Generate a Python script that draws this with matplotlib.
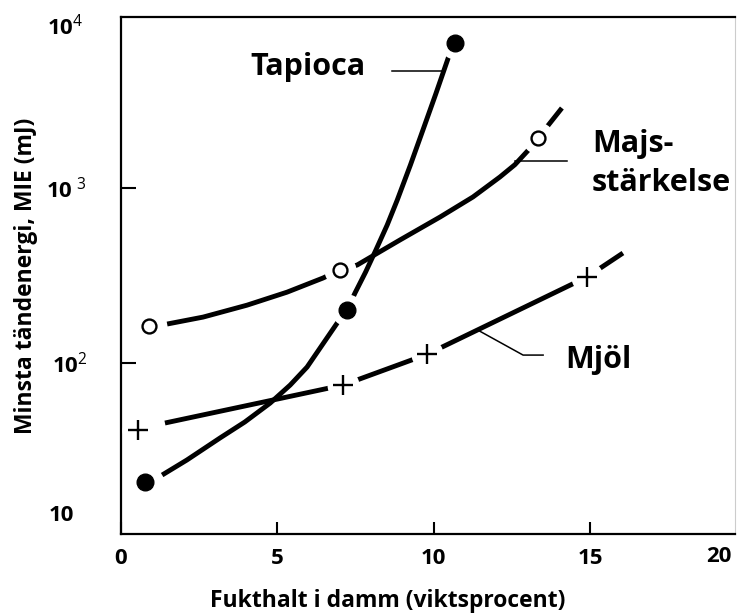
import matplotlib
matplotlib.use("Agg")
import matplotlib.pyplot as plt

plt.rcParams['font.family'] = ['Open Sans', 'DejaVu Sans']
plt.rcParams['mathtext.fontset'] = 'custom'
plt.rcParams['mathtext.rm'] = 'Open Sans'
plt.rcParams['mathtext.bf'] = 'Open Sans:bold'

# ---- data ----
# measured points (markers)
tapioca_x = [0.78, 7.24, 10.69]
tapioca_y = [21, 201, 6750]
majs_x = [0.91, 7.01, 13.34]
majs_y = [163, 340, 1931]
mjol_x = [0.56, 7.11, 9.79, 14.9]
mjol_y = [41.4, 74.8, 112, 310]

# hand-drawn fitted curves
tapioca_curve_x = [1.33, 2.12, 3.18, 3.97, 4.78, 5.42, 5.96, 6.92, 7.24, 7.49, 7.83,
                   8.16, 8.52, 8.84, 9.26, 9.66, 10.07, 10.48, 10.69]
tapioca_curve_y = [22.9, 27.9, 37.3, 46, 59, 74.8, 94.8, 169, 201, 251, 331,
                   443, 615, 853, 1352, 2143, 3443, 5610, 6750]
majs_curve_x = [1.49, 2.64, 4.04, 5.32, 6.47, 7.01, 7.56, 8.93, 10.21, 11.26, 12.12,
                12.6, 13.02, 13.34, 14.1]
majs_curve_y = [167, 183, 214, 254, 306, 340, 363, 505, 683, 889, 1156,
                1360, 1640, 1931, 2865]
mjol_curve_x = [1.42, 7.11, 9.79, 14.9, 16.05]
mjol_curve_y = [45.4, 74.8, 112, 310, 425]

x_ticks = [0, 5, 10, 15]
x_ticklabels = ['0', '5', '10', '15']
y_ticks = [100, 1000]
y_ticklabels = [r'$\mathbf{10}^{2}$', r'$\mathbf{10}^{\ 3}$']

fig = plt.figure(figsize=(7.37, 6.13), dpi=100)
W, H = 737, 613
ax = fig.add_axes([120.5 / W, (H - 534) / H, (735 - 120.5) / W, (534 - 17) / H])
ax.set_yscale('log')
ax.set_xlim(0, 19.63)
ax.set_ylim(10.54, 9490)

lw = 3.5
for cx, cy in [(tapioca_curve_x, tapioca_curve_y), (majs_curve_x, majs_curve_y), (mjol_curve_x, mjol_curve_y)]:
    ax.plot(cx, cy, color='black', lw=lw, solid_capstyle='butt', solid_joinstyle='round', zorder=2)

# white halos to create gaps around markers
for mx, my in [(tapioca_x, tapioca_y), (majs_x, majs_y), (mjol_x, mjol_y)]:
    ax.plot(mx, my, ls='none', marker='o', ms=23, mfc='white', mec='none', zorder=3)

ax.plot(tapioca_x, tapioca_y, ls='none', marker='o', ms=12, mfc='black', mec='black', zorder=4)
ax.plot(majs_x, majs_y, ls='none', marker='o', ms=10, mfc='white', mec='black', mew=1.7, zorder=4)
ax.plot(mjol_x, mjol_y, ls='none', marker='+', ms=15, mec='black', mew=1.7, zorder=4)

# leader lines
ax.plot([8.67, 10.36], [4670, 4670], color='black', lw=1.1, zorder=1)
ax.plot([12.6, 14.27], [1420, 1420], color='black', lw=1.1, zorder=1)
ax.plot([11.42, 12.86, 13.5], [154, 111, 111], color='black', lw=1.1, zorder=1)

# annotations
ann = dict(fontsize=22, fontweight='bold', va='baseline', ha='left', color='black')
ax.text(4.14, 4427, 'Tapioca', **ann)
ax.text(15.06, 1606, 'Majs-', **ann)
ax.text(15.06, 961, 'stärkelse', **ann)
ax.text(14.2, 93.6, 'Mjöl', **ann)

# axes styling
for side in ['left', 'bottom', 'top']:
    ax.spines[side].set_linewidth(1.6)
ax.spines['right'].set_linewidth(0.8)
ax.spines['right'].set_color('#cccccc')

ax.set_xticks(x_ticks)
ax.set_xticklabels(x_ticklabels)
ax.set_yticks(y_ticks)
ax.set_yticklabels(y_ticklabels)
ax.minorticks_off()
ax.tick_params(axis='x', direction='in', length=9, width=1.5, pad=10, labelsize=16)
ax.tick_params(axis='y', direction='in', length=11, width=1.5, pad=24, labelsize=16)
for lab in ax.get_xticklabels() + ax.get_yticklabels():
    lab.set_fontweight('bold')

# edge labels outside the view limits
ax.text(19.1, -0.043, '20', transform=ax.get_xaxis_transform(), ha='center', va='center',
        fontsize=16, fontweight='bold')
ax.text(-0.061, 8300, r'$\mathbf{10}^{4}$', transform=ax.get_yaxis_transform(), ha='right', va='center',
        fontsize=16)
ax.text(-0.075, 13.5, '10', transform=ax.get_yaxis_transform(), ha='right', va='center',
        fontsize=16, fontweight='bold')

ax.set_xlabel('Fukthalt i damm (viktsprocent)', fontsize=16.5, fontweight='bold')
ax.set_ylabel('Minsta tändenergi, MIE (mJ)', fontsize=16.5, fontweight='bold')
ax.xaxis.set_label_coords(0.435, -0.106)
ax.yaxis.set_label_coords(-0.135, 0.5)

fig.savefig('out.png', dpi=100)
